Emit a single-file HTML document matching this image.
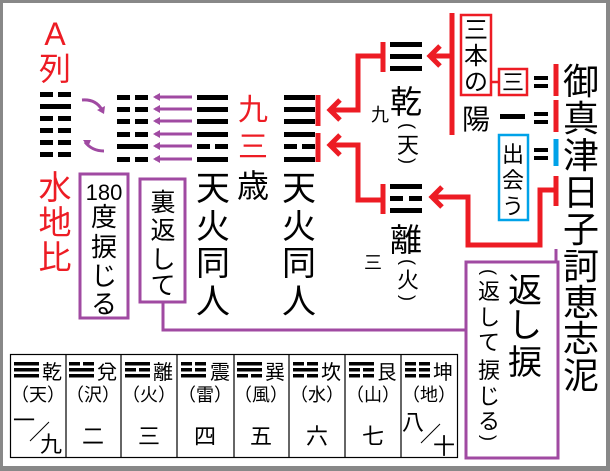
<!DOCTYPE html>
<html><head><meta charset="utf-8"><style>
html,body{margin:0;padding:0;background:#888;}
svg{display:block;}
text{font-family:"Liberation Sans","Noto Sans CJK JP",sans-serif;}
</style></head><body>
<svg width="610" height="471" viewBox="0 0 610 471" xmlns="http://www.w3.org/2000/svg">
<rect x="0" y="0" width="610" height="471" fill="#888"/>
<rect x="3" y="3" width="603" height="463" fill="#fff"/>

<g fill="#000">
<rect x="40" y="92" width="13" height="5"/><rect x="58" y="92" width="13" height="5"/>
<rect x="40" y="104" width="31" height="5"/>
<rect x="40" y="116" width="13" height="5"/><rect x="58" y="116" width="13" height="5"/>
<rect x="40" y="128" width="13" height="5"/><rect x="58" y="128" width="13" height="5"/>
<rect x="40" y="140" width="13" height="5"/><rect x="58" y="140" width="13" height="5"/>
<rect x="40" y="152" width="13" height="5"/><rect x="58" y="152" width="13" height="5"/>
<rect x="117" y="95" width="13" height="5"/><rect x="135" y="95" width="13" height="5"/>
<rect x="117" y="107" width="13" height="5"/><rect x="135" y="107" width="13" height="5"/>
<rect x="117" y="119" width="13" height="5"/><rect x="135" y="119" width="13" height="5"/>
<rect x="117" y="132" width="13" height="5"/><rect x="135" y="132" width="13" height="5"/>
<rect x="117" y="144" width="31" height="5"/>
<rect x="117" y="157" width="13" height="5"/><rect x="135" y="157" width="13" height="5"/>
<rect x="197" y="95" width="31" height="5"/>
<rect x="197" y="107" width="31" height="5"/>
<rect x="197" y="119" width="31" height="5"/>
<rect x="197" y="132" width="31" height="5"/>
<rect x="197" y="144" width="13" height="5"/><rect x="215" y="144" width="13" height="5"/>
<rect x="197" y="157" width="31" height="5"/>
<rect x="284" y="95" width="31" height="5"/>
<rect x="284" y="107" width="31" height="5"/>
<rect x="284" y="119" width="31" height="5"/>
<rect x="284" y="132" width="31" height="5"/>
<rect x="284" y="144" width="13" height="5"/><rect x="302" y="144" width="13" height="5"/>
<rect x="284" y="157" width="31" height="5"/>
<rect x="390" y="42" width="32" height="5"/>
<rect x="390" y="54" width="32" height="5"/>
<rect x="390" y="66" width="32" height="5"/>
<rect x="390" y="184" width="32" height="5"/>
<rect x="390" y="196" width="13" height="5"/><rect x="409" y="196" width="13" height="5"/>
<rect x="390" y="208" width="32" height="5"/>
<rect x="500" y="114" width="25" height="5"/>
<rect x="534" y="76" width="14" height="4"/><rect x="534" y="84" width="14" height="4"/>
<rect x="534" y="112" width="14" height="4"/><rect x="534" y="120" width="14" height="4"/>
<rect x="534" y="148" width="14" height="4"/><rect x="534" y="156" width="14" height="4"/>
</g>

<g stroke="#a04aa2" stroke-width="3" fill="none">
<line x1="192" y1="97" x2="155" y2="97"/><line x1="192" y1="109" x2="155" y2="109"/>
<line x1="192" y1="121" x2="155" y2="121"/><line x1="192" y1="134" x2="155" y2="134"/>
<line x1="192" y1="146" x2="155" y2="146"/><line x1="192" y1="159" x2="155" y2="159"/>
<path d="M82 100 Q96 99 102 110"/>
<path d="M104 151 Q92 151 85 142"/>
<rect x="80" y="174" width="48" height="144"/>
<rect x="140" y="179" width="45" height="123"/>
<polyline points="163,302 163,330 465,330"/>
<rect x="466" y="262" width="92" height="196"/>
<line x1="556" y1="249" x2="556" y2="262"/>
</g>
<g fill="#a04aa2">
<polygon points="153,97 160,93 160,101"/><polygon points="153,109 160,105 160,113"/>
<polygon points="153,121 160,117 160,125"/><polygon points="153,134 160,130 160,138"/>
<polygon points="153,146 160,142 160,150"/><polygon points="153,159 160,155 160,163"/>
<polygon points="104,114 97,110 105,106"/>
<polygon points="83,140 91,140 88,147"/>
</g>

<g stroke="#ed1c24" stroke-width="5" fill="none">
<line x1="452" y1="13" x2="452" y2="135"/>
<line x1="452" y1="56" x2="430" y2="56"/>
<polyline points="440,46 430,56 440,66"/>
<line x1="383" y1="42" x2="383" y2="72"/>
<polyline points="383,56 358,56 358,110 330,110"/>
<polyline points="340,100 330,110 340,120"/>
<line x1="318" y1="95" x2="318" y2="126"/>
<line x1="318" y1="133" x2="318" y2="162"/>
<polyline points="330,145 358,145 358,200 383,200"/>
<polyline points="340,135 330,145 340,155"/>
<line x1="383" y1="184" x2="383" y2="214"/>
<line x1="556" y1="64" x2="556" y2="96"/>
<line x1="556" y1="100" x2="556" y2="132"/>
<line x1="556" y1="176" x2="556" y2="206"/>
<polyline points="556,190 540,190 540,245 468,245 468,197 432,197"/>
<polyline points="442,187 432,197 442,207"/>
</g>
<line x1="556" y1="139" x2="556" y2="166" stroke="#00a2e8" stroke-width="5"/>
<g fill="none" stroke-width="2.5">
<rect x="461" y="15" width="30" height="80" stroke="#ed1c24"/>
<rect x="499" y="69" width="28" height="26" stroke="#ed1c24"/>
<rect x="499" y="135" width="29" height="85" stroke="#00a2e8"/>
</g>
<line x1="491" y1="82" x2="499" y2="82" stroke="#ed1c24" stroke-width="2.5"/>

<g fill="#ed1c24" text-anchor="middle">
<text x="55" y="45" font-size="32">A</text>
<text x="55" y="80" font-size="32">列</text>
<text x="55" y="199" font-size="33">水</text>
<text x="55" y="234" font-size="33">地</text>
<text x="55" y="269" font-size="33">比</text>
<text x="253" y="120" font-size="30">九</text>
<text x="253" y="157" font-size="30">三</text>
</g>
<g fill="#000" text-anchor="middle">
<text x="253" y="197" font-size="32">歳</text>
<text x="213" y="200" font-size="34">天</text><text x="213" y="238" font-size="34">火</text>
<text x="213" y="275" font-size="34">同</text><text x="213" y="313" font-size="34">人</text>
<text x="299" y="200" font-size="34">天</text><text x="299" y="238" font-size="34">火</text>
<text x="299" y="275" font-size="34">同</text><text x="299" y="313" font-size="34">人</text>
<text x="104" y="200" font-size="22">180</text>
<text x="104" y="226" font-size="26">度</text><text x="104" y="256" font-size="26">捩</text>
<text x="104" y="285" font-size="26">じ</text><text x="104" y="313" font-size="26">る</text>
<text x="163" y="211" font-size="25">裏</text><text x="163" y="239" font-size="25">返</text>
<text x="163" y="268" font-size="25">し</text><text x="163" y="294" font-size="25">て</text>
<text x="406" y="113" font-size="32">乾</text>
<text transform="translate(408,126) rotate(90)" dominant-baseline="central" font-size="18">(</text>
<text x="408" y="153" font-size="22">天</text>
<text transform="translate(408,161) rotate(90)" dominant-baseline="central" font-size="18">)</text>
<text x="380" y="121" font-size="18">九</text>
<text x="406" y="251" font-size="32">離</text>
<text transform="translate(408,262) rotate(90)" dominant-baseline="central" font-size="18">(</text>
<text x="408" y="288" font-size="22">火</text>
<text transform="translate(408,298) rotate(90)" dominant-baseline="central" font-size="18">)</text>
<text x="373" y="269" font-size="18">三</text>
<text x="476" y="38" font-size="24">三</text>
<text x="476" y="64" font-size="24">本</text>
<text x="476" y="90" font-size="24">の</text>
<text x="476" y="129" font-size="28">陽</text>
<text x="513" y="90" font-size="22">三</text>
<text x="513" y="162" font-size="22">出</text>
<text x="513" y="188" font-size="22">会</text>
<text x="513" y="214" font-size="22">う</text>
<text x="581" y="94" font-size="36">御</text>
<text x="581" y="131" font-size="36">真</text>
<text x="581" y="168" font-size="36">津</text>
<text x="581" y="205" font-size="36">日</text>
<text x="581" y="242" font-size="36">子</text>
<text x="581" y="279" font-size="36">訶</text>
<text x="581" y="315" font-size="36">恵</text>
<text x="581" y="351" font-size="36">志</text>
<text x="581" y="388" font-size="36">泥</text>
<text x="525" y="302" font-size="34">返</text>
<text x="525" y="337" font-size="34">し</text>
<text x="525" y="374" font-size="34">捩</text>
<text transform="translate(489,272) rotate(90)" dominant-baseline="central" font-size="18">(</text>
<text x="489" y="299" font-size="22">返</text>
<text x="489" y="325" font-size="22">し</text>
<text x="489" y="350" font-size="22">て</text>
<text x="489" y="378" font-size="22">捩</text>
<text x="489" y="404" font-size="22">じ</text>
<text x="489" y="429" font-size="22">る</text>
<text transform="translate(489,438) rotate(90)" dominant-baseline="central" font-size="18">)</text>
</g>

<g stroke="#000" stroke-width="1.2" fill="none">
<rect x="10.5" y="354.5" width="447" height="103"/>
<line x1="66" y1="354" x2="66" y2="458"/><line x1="121" y1="354" x2="121" y2="458"/>
<line x1="177" y1="354" x2="177" y2="458"/><line x1="234" y1="354" x2="234" y2="458"/>
<line x1="289" y1="354" x2="289" y2="458"/><line x1="345" y1="354" x2="345" y2="458"/>
<line x1="401" y1="354" x2="401" y2="458"/>
<line x1="30" y1="441" x2="49" y2="422" stroke-width="1"/>
<line x1="421" y1="443" x2="440" y2="424" stroke-width="1"/>
</g>
<g fill="#000">
<rect x="14" y="362" width="25" height="3.5"/><rect x="14" y="368" width="25" height="3.5"/><rect x="14" y="374" width="25" height="3.5"/>
<rect x="69" y="362" width="11" height="3.5"/><rect x="83" y="362" width="11" height="3.5"/><rect x="69" y="368" width="25" height="3.5"/><rect x="69" y="374" width="25" height="3.5"/>
<rect x="125" y="362" width="25" height="3.5"/><rect x="125" y="368" width="11" height="3.5"/><rect x="139" y="368" width="11" height="3.5"/><rect x="125" y="374" width="25" height="3.5"/>
<rect x="181" y="362" width="11" height="3.5"/><rect x="195" y="362" width="11" height="3.5"/><rect x="181" y="368" width="11" height="3.5"/><rect x="195" y="368" width="11" height="3.5"/><rect x="181" y="374" width="25" height="3.5"/>
<rect x="237" y="362" width="25" height="3.5"/><rect x="237" y="368" width="25" height="3.5"/><rect x="237" y="374" width="11" height="3.5"/><rect x="251" y="374" width="11" height="3.5"/>
<rect x="293" y="362" width="11" height="3.5"/><rect x="307" y="362" width="11" height="3.5"/><rect x="293" y="368" width="25" height="3.5"/><rect x="293" y="374" width="11" height="3.5"/><rect x="307" y="374" width="11" height="3.5"/>
<rect x="349" y="362" width="25" height="3.5"/><rect x="349" y="368" width="11" height="3.5"/><rect x="363" y="368" width="11" height="3.5"/><rect x="349" y="374" width="11" height="3.5"/><rect x="363" y="374" width="11" height="3.5"/>
<rect x="405" y="362" width="11" height="3.5"/><rect x="419" y="362" width="11" height="3.5"/><rect x="405" y="368" width="11" height="3.5"/><rect x="419" y="368" width="11" height="3.5"/><rect x="405" y="374" width="11" height="3.5"/><rect x="419" y="374" width="11" height="3.5"/>
</g>
<g fill="#000" font-size="20" text-anchor="middle">
<text x="52" y="379">乾</text><text x="107" y="379">兌</text><text x="163" y="379">離</text><text x="220" y="379">震</text>
<text x="275" y="379">巽</text><text x="331" y="379">坎</text><text x="387" y="379">艮</text><text x="443" y="379">坤</text>
</g>
<g fill="#000" font-size="18" text-anchor="middle">
<text x="38" y="401">（天）</text><text x="93" y="401">（沢）</text><text x="149" y="401">（火）</text><text x="205" y="401">（雷）</text>
<text x="261" y="401">（風）</text><text x="317" y="401">（水）</text><text x="373" y="401">（山）</text><text x="429" y="401">（地）</text>
</g>
<g fill="#000" font-size="22" text-anchor="middle">
<text x="24" y="428">一</text><text x="51" y="452">九</text>
<text x="93" y="444">二</text><text x="149" y="444">三</text><text x="205" y="444">四</text>
<text x="261" y="444">五</text><text x="317" y="444">六</text><text x="373" y="444">七</text>
<text x="413" y="430">八</text><text x="444" y="454">十</text>
</g>
</svg>
</body></html>
